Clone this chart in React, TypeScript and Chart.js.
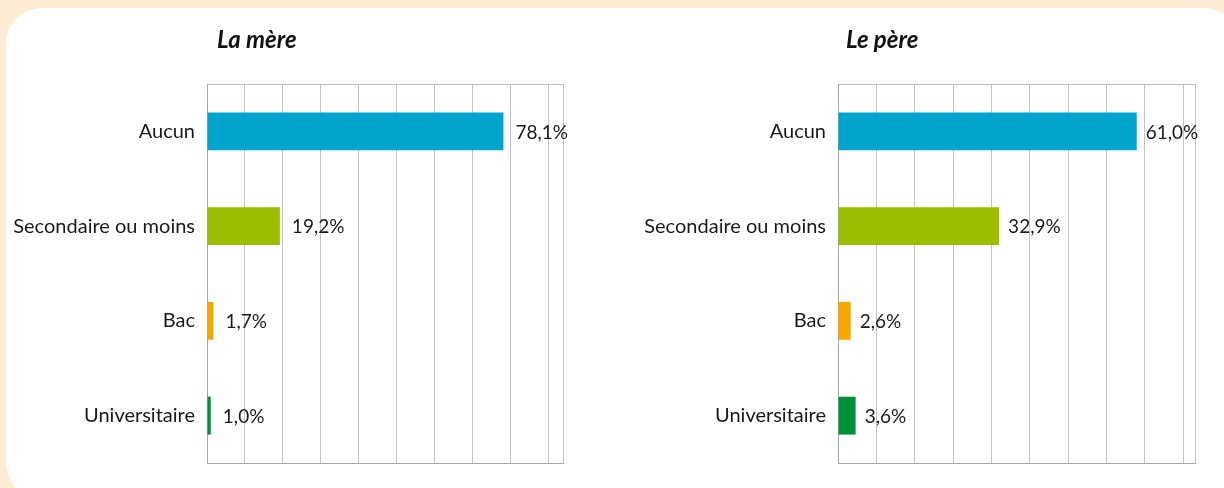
import React, { useEffect, useRef } from "react";
import { Chart, registerables } from "chart.js";

Chart.register(...registerables);

// ---------- data ----------
const categories = ["Aucun", "Secondaire ou moins", "Bac", "Universitaire"];
const motherValues = [78.1, 19.2, 1.7, 1.0];
const fatherValues = [61.0, 32.9, 2.6, 3.6];
const barColors = ["#00A5CB", "#9BBF00", "#F7A800", "#00923A"];
const motherTitle = "La mère";
const fatherTitle = "Le père";
const motherAxisMax = 93.8;
const fatherAxisMax = 72.9;
const motherGridStep = 10;
const fatherGridStep = 7.83;

const FONT = "Lato, 'Open Sans', sans-serif";

function formatPct(v: number): string {
  return v.toFixed(1).replace(".", ",") + "%";
}

function gridValues(max: number, step: number): number[] {
  const out: number[] = [];
  for (let i = 0; i * step < max - step * 0.2; i++) out.push(+(i * step).toFixed(4));
  out.push(max);
  return out;
}

const valueLabels = {
  id: "valueLabels",
  afterDatasetsDraw(chart: any, _args: any, opts: any) {
    const ctx = chart.ctx;
    const meta = chart.getDatasetMeta(0);
    const data = chart.data.datasets[0].data as number[];
    ctx.save();
    ctx.font = opts.font;
    ctx.fillStyle = opts.color;
    ctx.textAlign = "left";
    ctx.textBaseline = "middle";
    meta.data.forEach((bar: any, i: number) => {
      ctx.fillText(formatPct(data[i]), bar.x + opts.offset, bar.y + 1);
    });
    ctx.restore();
  },
};

type PanelProps = {
  values: number[];
  axisMax: number;
  gridStep: number;
  yAxisWidth: number;
  padRight: number;
  labelOffset: number;
};

function Panel({ values, axisMax, gridStep, yAxisWidth, padRight, labelOffset }: PanelProps) {
  const ref = useRef<HTMLCanvasElement | null>(null);
  useEffect(() => {
    if (!ref.current) return;
    const ticks = gridValues(axisMax, gridStep);
    const chart = new Chart(ref.current, {
      type: "bar",
      data: {
        labels: categories,
        datasets: [
          {
            data: values,
            backgroundColor: barColors,
            borderWidth: 0,
            barPercentage: 0.4,
            categoryPercentage: 1,
          },
        ],
      },
      options: {
        indexAxis: "y",
        responsive: false,
        animation: false,
        events: [],
        layout: { padding: { left: 0, right: padRight, top: 84, bottom: 25 } },
        plugins: {
          legend: { display: false },
          tooltip: { enabled: false },
          title: { display: false },
          valueLabels: { font: `19px ${FONT}`, color: "#1A1A1A", offset: labelOffset },
        } as any,
        scales: {
          x: {
            type: "linear",
            min: 0,
            max: axisMax,
            afterBuildTicks: (axis: any) => {
              axis.ticks = ticks.map((value) => ({ value }));
            },
            afterFit: (axis: any) => {
              axis.height = 0;
            },
            ticks: { display: false },
            grid: { color: "#C4C4C4", lineWidth: 1, drawTicks: false },
            border: { display: true, color: "#A6A6A6", width: 1 },
          },
          y: {
            type: "category",
            afterFit: (axis: any) => {
              axis.width = yAxisWidth;
            },
            ticks: {
              font: { family: FONT, size: 20 },
              color: "#1A1A1A",
              padding: 12,
            },
            grid: {
              drawTicks: false,
              offset: true,
              lineWidth: 1,
              color: (c: any) =>
                c.type === "scale" || c.index === 0 ? "#BDBDBD" : "rgba(0,0,0,0)",
            },
            border: { display: true, color: "#A6A6A6", width: 1 },
          },
        } as any,
      },
      plugins: [valueLabels as any],
    });
    return () => chart.destroy();
  }, [values, axisMax, gridStep, yAxisWidth, padRight, labelOffset]);
  return <canvas ref={ref} width={612} height={488} style={{ width: 612, height: 488, display: "block" }} />;
}

const titleStyle: React.CSSProperties = {
  position: "absolute",
  top: 25,
  fontFamily: FONT,
  fontStyle: "italic",
  fontWeight: 700,
  fontSize: 24,
  lineHeight: "28px",
  color: "#111",
  whiteSpace: "nowrap",
};

export default function App() {
  return (
    <div
      style={{
        position: "fixed",
        left: 0,
        top: 0,
        width: 1224,
        height: 488,
        overflow: "hidden",
        background: "#FDEBD3",
      }}
    >
      <div
        style={{
          position: "absolute",
          left: 6,
          top: 8,
          width: 1234,
          height: 491,
          borderRadius: 36,
          background: "#FFFFFF",
        }}
      />
      <div style={{ position: "absolute", left: 0, top: 0 }}>
        <Panel
          values={motherValues}
          axisMax={motherAxisMax}
          gridStep={motherGridStep}
          yAxisWidth={207}
          padRight={49}
          labelOffset={12}
        />
      </div>
      <div style={{ position: "absolute", left: 612, top: 0 }}>
        <Panel
          values={fatherValues}
          axisMax={fatherAxisMax}
          gridStep={fatherGridStep}
          yAxisWidth={226}
          padRight={29}
          labelOffset={9}
        />
      </div>
      <div style={{ ...titleStyle, left: 217 }}>{motherTitle}</div>
      <div style={{ ...titleStyle, left: 846 }}>{fatherTitle}</div>
    </div>
  );
}
